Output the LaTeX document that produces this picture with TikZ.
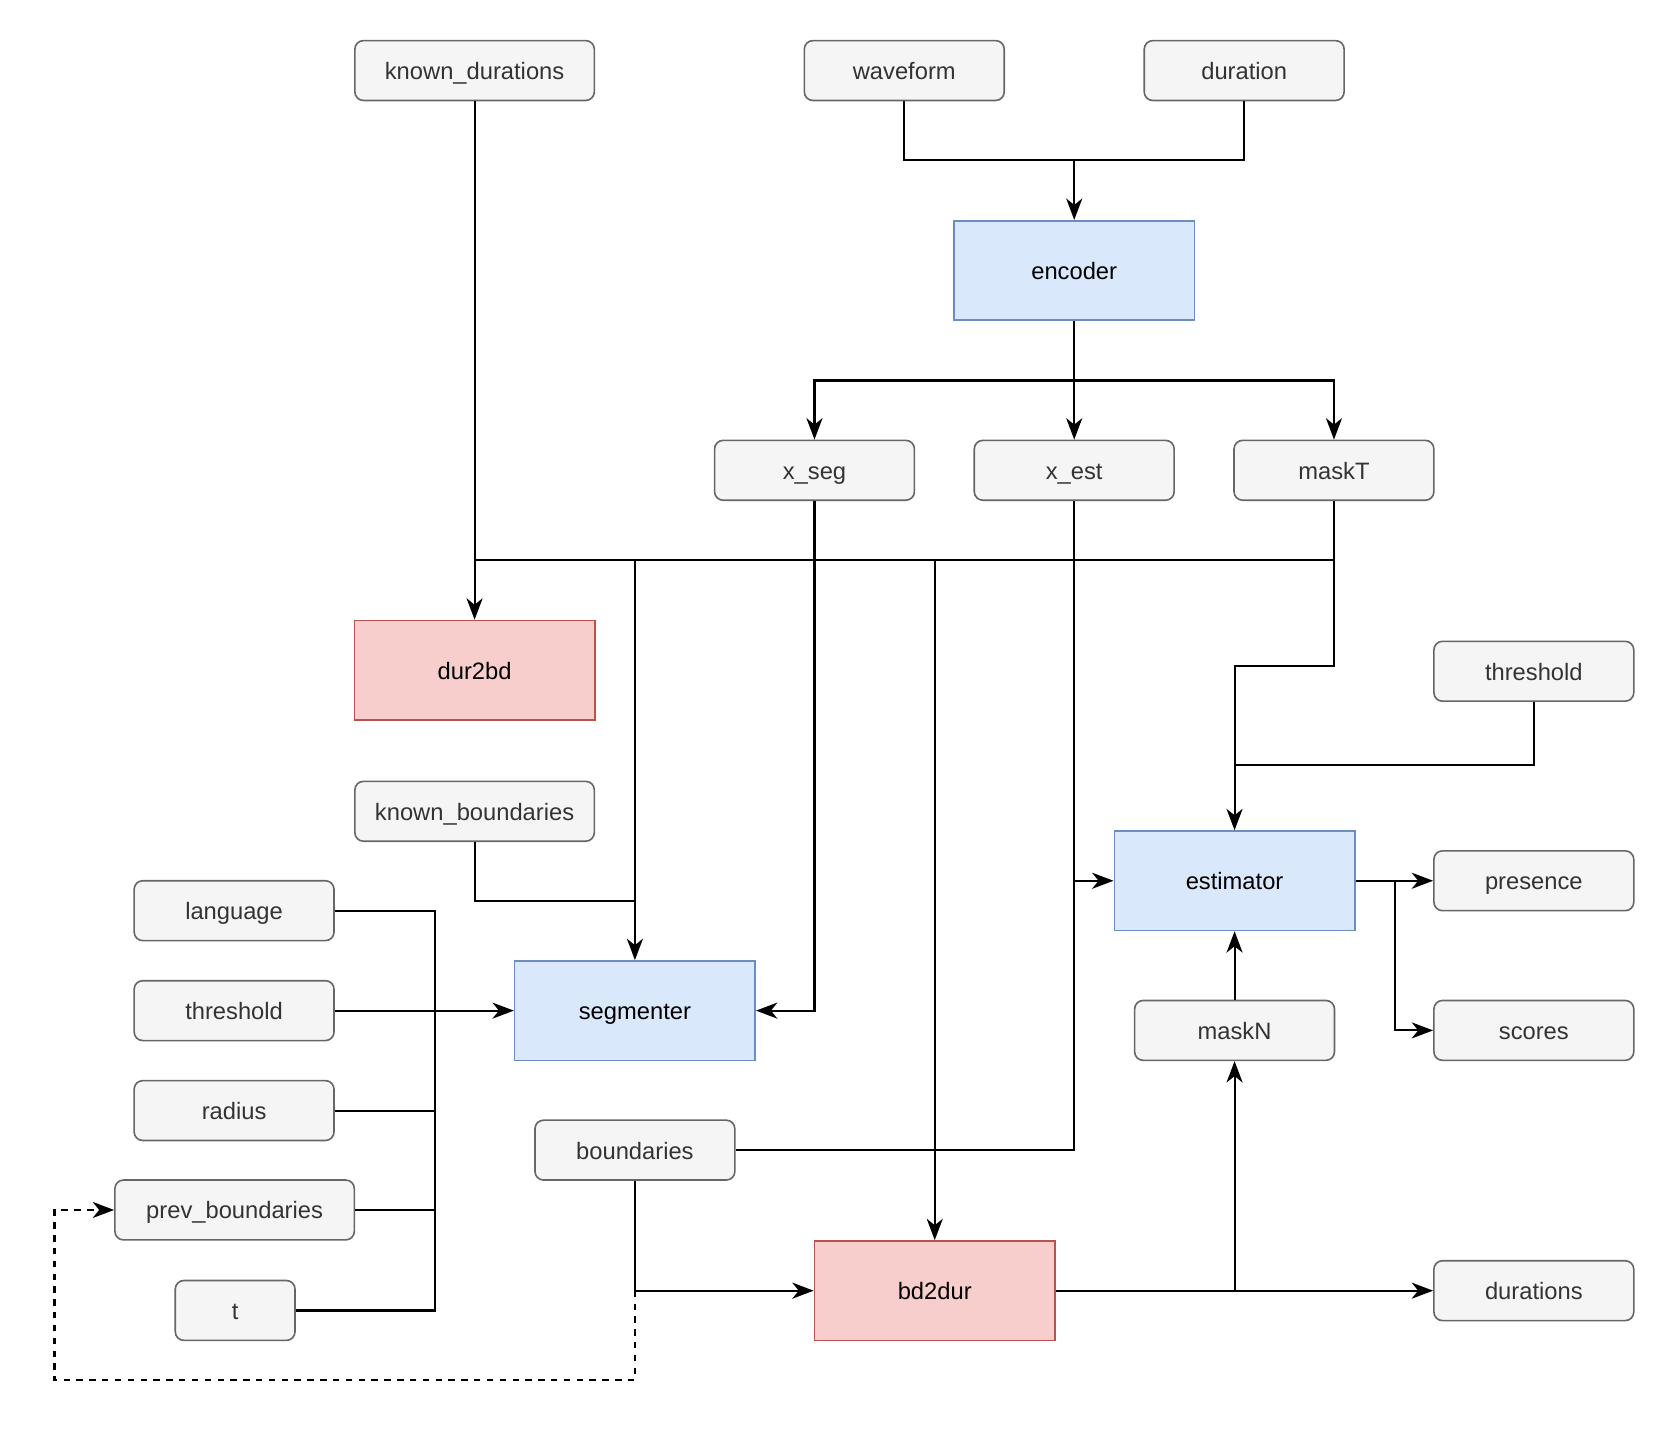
\documentclass[tikz,border=0pt]{standalone}
\usepackage{fontspec}
\setmainfont{Liberation Sans}
\usetikzlibrary{arrows.meta}
\definecolor{gfill}{HTML}{F5F5F5}
\definecolor{gline}{HTML}{666666}
\definecolor{gtext}{HTML}{333333}
\definecolor{bfill}{HTML}{DAE8FC}
\definecolor{bline}{HTML}{6C8EBF}
\definecolor{rfill}{HTML}{F8CECC}
\definecolor{rline}{HTML}{B85450}
\tikzset{
  base/.style={inner sep=0pt, font=\fontsize{11.1}{13}\selectfont, text height=9pt, text depth=0.6pt, line width=0.75pt},
  gbox/.style={base, draw=gline, fill=gfill, text=gtext, rounded corners=4pt, minimum width=93.5pt, minimum height=28pt},
  gwide/.style={gbox, minimum width=112pt},
  gsmall/.style={gbox, minimum width=56pt},
  bbox/.style={base, draw=bline, fill=bfill, text=black, minimum width=112.5pt, minimum height=46.5pt},
  rbox/.style={base, draw=rline, fill=rfill, text=black, minimum width=112.5pt, minimum height=46.5pt},
  conn/.style={line width=1pt, draw=black},
  arr/.style={conn, -{Stealth[length=10pt, width=7.5pt, inset=3pt]}},
}
\begin{document}
\begin{tikzpicture}[x=0.5pt, y=-0.5pt]
\useasboundingbox (0,0) rectangle (1568,1347);
% nodes
\node[gwide] (kd) at (444,66) {known\_durations};
\node[gbox] (wf) at (846,66) {waveform};
\node[gbox] (dur) at (1164,66) {duration};
\node[bbox] (enc) at (1005,253) {encoder};
\node[gbox] (xseg) at (762,440) {x\_seg};
\node[gbox] (xest) at (1005,440) {x\_est};
\node[gbox] (mT) at (1248,440) {maskT};
\node[rbox] (d2b) at (444,627) {dur2bd};
\node[gwide] (kb) at (444,759) {known\_boundaries};
\node[gbox] (thrR) at (1435,628) {threshold};
\node[bbox] (est) at (1155,824) {estimator};
\node[gbox] (pres) at (1435,824) {presence};
\node[gbox] (sco) at (1435,964) {scores};
\node[gbox] (mN) at (1155,964) {maskN};
\node[gbox] (lang) at (219,852) {language};
\node[gbox] (thrL) at (219,945.5) {threshold};
\node[bbox] (seg) at (594,945.5) {segmenter};
\node[gbox] (rad) at (219,1039) {radius};
\node[gbox] (bnd) at (594,1076) {boundaries};
\node[gwide] (pb) at (219.5,1132) {prev\_boundaries};
\node[gsmall] (t) at (220,1226) {t};
\node[rbox] (b2d) at (874.5,1207.5) {bd2dur};
\node[gbox] (durs) at (1435,1207.5) {durations};
% junction coordinates
\coordinate (jtop) at (1005,150);
\coordinate (jenc) at (1005,356);
\coordinate (jm) at (1248,524);
\coordinate (jkd) at (444,524);
\coordinate (jseg) at (594,524);
\coordinate (jbd) at (874.5,524);
\coordinate (jm2) at (1248,623);
\coordinate (jth) at (1155,716);
\coordinate (jkb) at (594,843);
\coordinate (jxe) at (1005,824);
\coordinate (jsc) at (1305,824);
\coordinate (jmn) at (1155,1207.5);
\coordinate (jb) at (594,1207.5);
\coordinate (jbus) at (407,945.5);
\coordinate (jdb) at (594,1291);
\coordinate (jdl) at (51,1291);
% connectors
\draw[arr] (kd) -- (d2b);
\draw[conn] (wf.south) |- (jtop);
\draw[conn] (dur.south) |- (jtop);
\draw[arr] (jtop) -- (enc.north);
\draw[conn] (enc.south) -- (jenc);
\draw[arr] (jenc) -| (xseg.north);
\draw[arr] (jenc) -- (xest.north);
\draw[arr] (jenc) -| (mT.north);
\draw[conn] (mT.south) -- (jm) -- (jkd);
\draw[arr] (jseg) -- (seg.north);
\draw[arr] (jbd) -- (b2d.north);
\draw[arr] (jm) -- (jm2) -| (est.north);
\draw[conn] (thrR.south) |- (jth);
\draw[conn] (kb.south) |- (jkb);
\draw[arr] (xseg.south) |- (seg.east);
\draw[arr] (xest.south) |- (est.west);
\draw[conn] (bnd.east) -| (jxe);
\draw[arr] (est.east) -- (pres.west);
\draw[arr] (jsc) |- (sco.west);
\draw[arr] (mN.north) -- (est.south);
\draw[arr] (b2d.east) -- (durs.west);
\draw[arr] (jmn) -- (mN.south);
\draw[arr] (bnd.south) |- (b2d.west);
\draw[arr, dashed, dash pattern=on 3pt off 3pt] (jb) -- (jdb) -- (jdl) |- (pb.west);
\draw[conn] (lang.east) -| (jbus);
\draw[arr] (thrL.east) -- (seg.west);
\draw[conn] (rad.east) -| (jbus);
\draw[conn] (pb.east) -| (jbus);
\draw[conn] (t.east) -| (jbus);
\end{tikzpicture}
\end{document}
